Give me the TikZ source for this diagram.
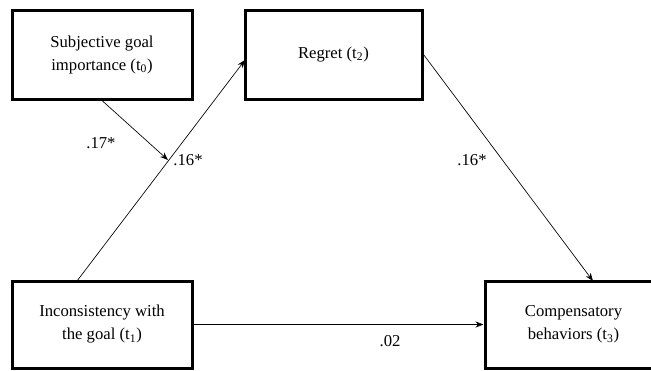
\documentclass[tikz,border=0pt]{standalone}
\usepackage{fontspec}
\setmainfont{Liberation Serif}
\usetikzlibrary{arrows.meta}

\tikzset{
  varbox/.style={draw, line width=2.25pt, align=center, inner sep=0.75pt,
    font=\fontsize{12.5}{17.25}\selectfont},
  path/.style={line width=0.5pt, -{Stealth[length=6pt,width=4.5pt]}},
  coef/.style={inner sep=0.75pt, font=\fontsize{12.5}{15}\selectfont}
}

\begin{document}
\begin{tikzpicture}[x=0.75pt,y=0.75pt,yscale=-1,xscale=1]
        \useasboundingbox (0,0) rectangle (651,371);

        % Variable boxes
        \node [varbox, minimum width=135pt, minimum height=66.75pt] (goal) at (102,54.5) {Subjective goal\\importance (t\textsubscript{0})};
        \node [varbox, minimum width=132.75pt, minimum height=66.75pt] (regret) at (333.5,54.5) {Regret (t\textsubscript{2})};
        \node [varbox, minimum width=135pt, minimum height=65.25pt] (incons) at (102,324.5) {Inconsistency with\\the goal (t\textsubscript{1})};
        \node [varbox, minimum width=132.75pt, minimum height=65.25pt] (comp) at (573.5,324.5) {Compensatory\\behaviors (t\textsubscript{3})};

        % end points on the box edges
        \coordinate (incTop) at (77,281);
        \coordinate (regIn) at (245,60);
        \coordinate (compTop) at (593,281);
        \coordinate (hit) at (168,160);

        %Straight Lines
        \draw [path] (incTop) -- (regIn);
        \draw [path] (goal.south) -- (hit);
        \draw [path] (regret.east) -- (compTop);
        \draw [path] (incons.east) -- (comp.west);

        % Text Node
        \node [coef] (b17) at (101,143) {.17*};
        % Text Node
        \node [coef] (b16a) at (188,160) {.16*};
        % Text Node
        \node [coef] (b16b) at (472,160) {.16*};
        % Text Node
        \node [coef] (b02) at (390,341) {.02};

\end{tikzpicture}
\end{document}
